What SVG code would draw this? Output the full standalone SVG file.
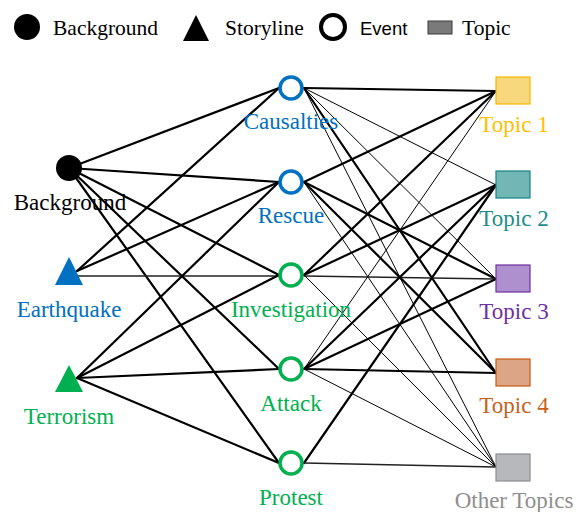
<svg xmlns="http://www.w3.org/2000/svg" width="577" height="512" viewBox="0 0 577 512">
<style>
.t{font-family:'Liberation Serif','DejaVu Serif',serif;font-size:23px;text-anchor:middle}
.lg{font-family:'Liberation Serif','DejaVu Serif',serif;font-size:21.5px}
.k{stroke:#000;stroke-width:2.2;fill:none;stroke-linecap:round}
.n{stroke:#000;stroke-width:1;fill:none}
.m{stroke:#222;stroke-width:1.4;fill:none}
.ev{fill:#fff;stroke-width:3.5}
.blue{fill:#0070C0}.green{fill:#00B050}
</style>
<rect width="577" height="512" fill="#fff"/>
<g id="legend">
<circle cx="27" cy="27" r="13" fill="#000"/>
<text class="lg" x="53" y="35" font-family="Liberation Serif, serif">Background</text>
<polygon points="196,15 183,41 209,41" fill="#000"/>
<text class="lg" x="225" y="35" font-family="Liberation Serif, serif">Storyline</text>
<circle cx="333" cy="27" r="12" fill="#fff" stroke="#000" stroke-width="4"/>
<text x="360" y="35" font-family="Liberation Sans, sans-serif" font-size="18.5">Event</text>
<rect x="428" y="21" width="24" height="13" fill="#7a7a7a" stroke="#3a3a3a" stroke-width="1"/>
<text class="lg" x="462" y="35" font-family="Liberation Serif, serif">Topic</text>
</g>
<g id="connectors">
<line class="k" x1="69" y1="168" x2="279" y2="88"/>
<line class="k" x1="69" y1="168" x2="279" y2="182"/>
<line class="k" x1="69" y1="168" x2="279" y2="275"/>
<line class="k" x1="69" y1="168" x2="279" y2="369"/>
<line class="k" x1="69" y1="168" x2="279" y2="463"/>
<line class="k" x1="77" y1="271" x2="279" y2="88"/>
<line class="k" x1="77" y1="271" x2="279" y2="182"/>
<line class="m" x1="77" y1="276" x2="279" y2="276"/>
<line class="k" x1="77" y1="378" x2="279" y2="182"/>
<line class="k" x1="77" y1="378" x2="279" y2="275"/>
<line class="k" x1="77" y1="378" x2="279" y2="369"/>
<line class="k" x1="77" y1="378" x2="279" y2="463"/>
<line class="k" x1="304" y1="88" x2="496" y2="91"/>
<line class="n" x1="304" y1="88" x2="496" y2="185"/>
<line class="n" x1="304" y1="88" x2="496" y2="279"/>
<line class="k" x1="304" y1="88" x2="496" y2="373"/>
<line class="n" x1="304" y1="88" x2="496" y2="467"/>
<line class="k" x1="304" y1="182" x2="496" y2="91"/>
<line class="k" x1="304" y1="182" x2="496" y2="279"/>
<line class="k" x1="304" y1="182" x2="496" y2="373"/>
<line class="n" x1="304" y1="182" x2="496" y2="467"/>
<line class="k" x1="304" y1="275" x2="496" y2="91"/>
<line class="k" x1="304" y1="275" x2="496" y2="185"/>
<line class="m" x1="304" y1="276" x2="496" y2="279"/>
<line class="n" x1="304" y1="275" x2="496" y2="467"/>
<line class="n" x1="304" y1="369" x2="496" y2="91"/>
<line class="k" x1="304" y1="369" x2="496" y2="185"/>
<line class="k" x1="304" y1="369" x2="496" y2="279"/>
<line class="k" x1="304" y1="369" x2="496" y2="373"/>
<line class="n" x1="304" y1="369" x2="496" y2="467"/>
<line class="k" x1="304" y1="463" x2="496" y2="185"/>
<line class="m" x1="304" y1="463" x2="496" y2="467"/>
</g>
<g id="n-background">
<circle cx="69" cy="168" r="13" fill="#000"/>
<text class="t" x="70" y="210" fill="#000" font-family="Liberation Serif, serif">Background</text>
</g>
<g id="n-earthquake">
<polygon class="blue" points="69,257 55,285 83,285"/>
<text class="t" x="69" y="317" fill="#0070C0" font-family="Liberation Serif, serif">Earthquake</text>
</g>
<g id="n-terrorism">
<polygon class="green" points="69,365 55,392 83,392"/>
<text class="t" x="69" y="424" fill="#00B050" font-family="Liberation Serif, serif">Terrorism</text>
</g>
<g id="n-causalties">
<circle class="ev" cx="291" cy="88" r="11" stroke="#0070C0"/>
<text class="t" x="291" y="129" fill="#0070C0" font-family="Liberation Serif, serif">Causalties</text>
</g>
<g id="n-rescue">
<circle class="ev" cx="291" cy="182" r="11" stroke="#0070C0"/>
<text class="t" x="291" y="223" fill="#0070C0" font-family="Liberation Serif, serif">Rescue</text>
</g>
<g id="n-investigation">
<circle class="ev" cx="291" cy="275" r="11" stroke="#00B050"/>
<text class="t" x="291" y="317" fill="#00B050" font-family="Liberation Serif, serif">Investigation</text>
</g>
<g id="n-attack">
<circle class="ev" cx="291" cy="369" r="11" stroke="#00B050"/>
<text class="t" x="291" y="411" fill="#00B050" font-family="Liberation Serif, serif">Attack</text>
</g>
<g id="n-protest">
<circle class="ev" cx="291" cy="463" r="11" stroke="#00B050"/>
<text class="t" x="291" y="505" fill="#00B050" font-family="Liberation Serif, serif">Protest</text>
</g>
<g id="n-topic1">
<rect x="496" y="77" width="34" height="27" fill="#F7D87C" stroke="#F5B800" stroke-width="1.2"/>
<text class="t" x="514" y="132" fill="#FFC000" font-family="Liberation Serif, serif">Topic 1</text>
</g>
<g id="n-topic2">
<rect x="496" y="171" width="34" height="27" fill="#72B6B6" stroke="#168282" stroke-width="1.2"/>
<text class="t" x="514" y="226" fill="#1E8C8C" font-family="Liberation Serif, serif">Topic 2</text>
</g>
<g id="n-topic3">
<rect x="496" y="265" width="34" height="27" fill="#AE90CE" stroke="#7030A0" stroke-width="1.2"/>
<text class="t" x="514" y="319" fill="#7030A0" font-family="Liberation Serif, serif">Topic 3</text>
</g>
<g id="n-topic4">
<rect x="496" y="359" width="34" height="27" fill="#DCA585" stroke="#C55A11" stroke-width="1.2"/>
<text class="t" x="514" y="413" fill="#C8611C" font-family="Liberation Serif, serif">Topic 4</text>
</g>
<g id="n-other">
<rect x="496" y="454" width="34" height="27" fill="#B6B8BB" stroke="#8A8D90" stroke-width="1.2"/>
<text class="t" x="514" y="508" fill="#8E8E8E" font-family="Liberation Serif, serif">Other Topics</text>
</g>
</svg>
